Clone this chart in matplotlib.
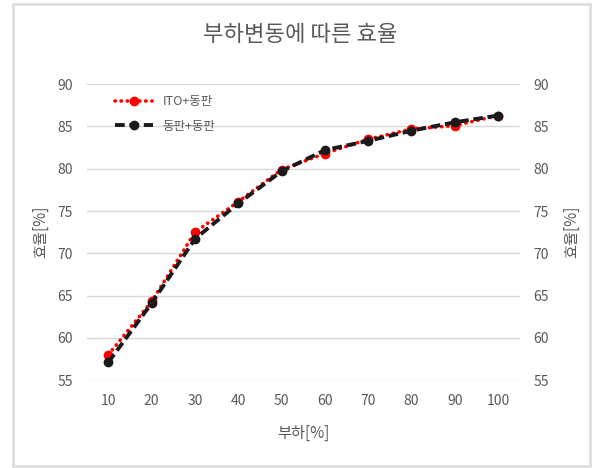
import matplotlib as mpl
import matplotlib.pyplot as plt
from matplotlib.patches import Rectangle

# 폰트 설정
mpl.rcParams['font.family'] = ['Noto Sans CJK KR', 'DejaVu Sans']

# 데이터
load = [10, 20, 30, 40, 50, 60, 70, 80, 90, 100]
eff_ito = [58.0, 64.3, 72.5, 76.1, 79.9, 81.8, 83.5, 84.7, 85.1, 86.3]
eff_cu = [57.1, 64.1, 71.7, 75.9, 79.7, 82.2, 83.3, 84.5, 85.5, 86.3]
yticks = [55, 60, 65, 70, 75, 80, 85, 90]

gray = '#595959'
pos = list(range(1, len(load) + 1))

fig = plt.figure(figsize=(5.94, 4.68), dpi=100)
ax = fig.add_axes([0.146, 0.188, 0.729, 0.632])

ax.plot(pos, eff_ito, color='#ff0000', linestyle=(0, (0.1, 1.6)), linewidth=2.6,
        dash_capstyle='round', marker='o', markersize=6, label='ITO+동판')
ax.plot(pos, eff_cu, color='#1a1a1a', linestyle='--', linewidth=2.8,
        dashes=(2.5, 1.2), marker='o', markersize=6, label='동판+동판')

ax.set_xlim(0.5, len(load) + 0.5)
ax.set_ylim(55, 90)
ax.set_xticks(pos)
ax.set_xticklabels([str(v) for v in load])
ax.set_yticks(yticks)
ax.grid(axis='y', color='#d9d9d9', linewidth=1)
ax.set_axisbelow(True)
for s in ax.spines.values():
    s.set_visible(False)
ax.tick_params(length=0, colors=gray, labelsize=10, pad=10)

# 오른쪽 축
ax2 = ax.twinx()
ax2.set_ylim(55, 90)
ax2.set_yticks(yticks)
for s in ax2.spines.values():
    s.set_visible(False)
ax2.tick_params(length=0, colors=gray, labelsize=10, pad=10)

ax.set_xlabel('부하[%]', color=gray, fontsize=11, labelpad=12)
ax.set_ylabel('효율[%]', color=gray, fontsize=11, labelpad=6)
ax2.set_ylabel('효율[%]', color=gray, fontsize=11, rotation=90, labelpad=10)

fig.suptitle('부하변동에 따른 효율', color=gray, fontsize=16, x=0.505, y=0.95)

ax.legend(loc='upper left', bbox_to_anchor=(0.04, 1.0), frameon=False,
          fontsize=9, labelcolor=gray, handlelength=3, labelspacing=0.9)

# 차트 테두리
fig.patches.append(Rectangle((0.022, 0.004), 0.972, 0.988, transform=fig.transFigure,
                             fill=False, edgecolor='#dedede', linewidth=2))

fig.savefig('out.png', dpi=100)
